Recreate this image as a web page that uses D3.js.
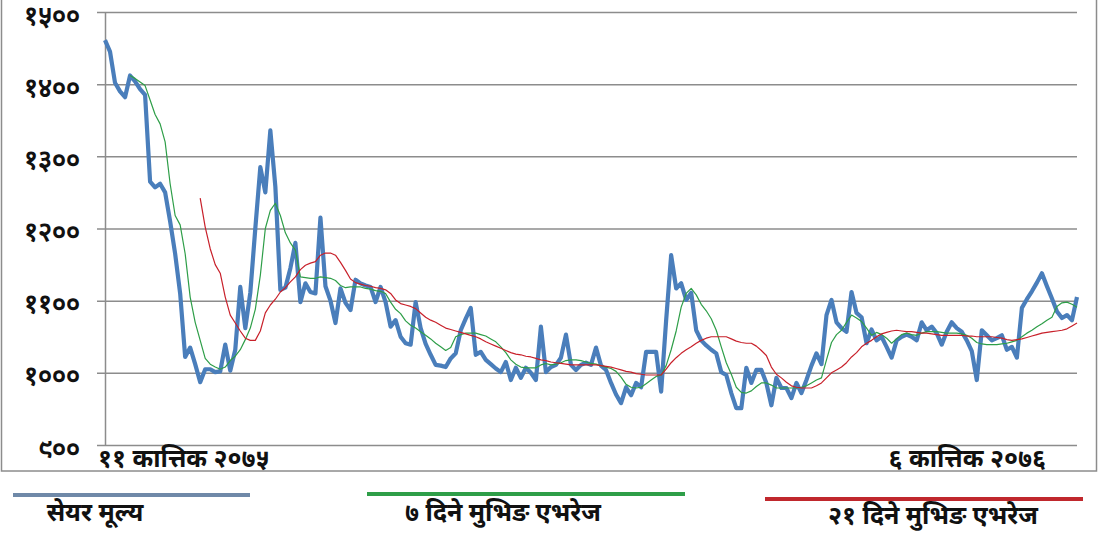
<!DOCTYPE html>
<html lang="ne">

<head>
    <meta charset="UTF-8">
    <title>सेयर मूल्य र मुभिङ एभरेज</title>
    <script src="https://d3js.org/d3.v7.min.js"></script>
    <style>
        body {
            margin: 0;
            background: white;
            font-family: "Noto Sans Devanagari", "Lohit Devanagari", "Noto Sans", sans-serif;
        }

        svg text {
            font-weight: bold;
            fill: #111;
        }
    </style>
</head>

<body>
    <svg id="vis" width="1100" height="535"></svg>
    <script>
        // share price, 11 Kartik 2075 -> 6 Kartik 2076
        const price = [
            1461, 1445, 1402, 1390, 1382, 1412, 1404, 1393, 1385, 1265,
            1257, 1262, 1250, 1210, 1165, 1110, 1022, 1035, 1012, 987,
            1005, 1005, 1001, 1002, 1039, 1003, 1032, 1119, 1062, 1111,
            1200, 1285, 1250, 1336, 1258, 1115, 1118, 1145, 1180, 1098,
            1124, 1112, 1110, 1215, 1120, 1100, 1069, 1117, 1097, 1087,
            1129, 1124, 1121, 1119, 1098, 1119, 1098, 1064, 1073, 1050,
            1041, 1039, 1098, 1062, 1040, 1025, 1011, 1010, 1008, 1020,
            1027, 1059, 1075, 1090, 1025, 1029, 1018, 1012, 1006, 1001,
            1015, 990, 1007, 993, 1007, 1000, 990, 1064, 1001, 1008,
            1011, 1021, 1053, 1011, 1004, 1011, 1014, 1011, 1035, 1010,
            1004, 986, 970, 958, 980, 969, 986, 980, 1029, 1029,
            1029, 974, 1073, 1163, 1117, 1124, 1101, 1111, 1059, 1045,
            1038, 1032, 1027, 1001, 997, 972, 951, 951, 1007, 986,
            1004, 1004, 986, 955, 993, 979, 979, 965, 986, 972,
            990, 1010, 1027, 1012, 1080, 1101, 1070, 1062, 1057, 1112,
            1083, 1077, 1041, 1060, 1045, 1050, 1036, 1021, 1045, 1050,
            1053, 1050, 1045, 1070, 1059, 1064, 1055, 1039, 1057, 1070,
            1062, 1057, 1045, 1030, 990, 1059, 1052, 1045, 1048, 1052,
            1032, 1036, 1021, 1090, 1102, 1113, 1125, 1138, 1120, 1103,
            1085, 1076, 1080, 1073, 1105
        ];

        // 7 day moving average (green)
        const ma7 = [
            null, null, null, null, null, 1412, 1408, 1403, 1398, 1378,
            1358, 1345, 1320, 1262, 1218, 1205, 1165, 1105, 1070, 1045,
            1020, 1012, 1008, 1005, 1008, 1017, 1023, 1032, 1046, 1062,
            1088, 1135, 1200, 1225, 1235, 1218, 1194, 1180, 1170, 1133,
            1132, 1131, 1131, 1133, 1132, 1131, 1128, 1121, 1118, 1119,
            1119, 1119, 1117, 1116, 1114, 1113, 1110, 1098, 1088, 1082,
            1072, 1066, 1062, 1057, 1052, 1047, 1041, 1036, 1031, 1035,
            1050, 1053, 1055, 1055, 1055, 1053, 1051, 1047, 1043, 1036,
            1028, 1018, 1012, 1008, 1007, 1007, 1007, 1011, 1013, 1011,
            1012, 1014, 1017, 1018, 1018, 1017, 1015, 1013, 1012, 1010,
            1008, 1006, 1002, 994, 984, 980, 979, 980, 985, 990,
            995, 997, 1010, 1032, 1058, 1091, 1110, 1117, 1108, 1095,
            1086, 1075, 1059, 1036, 1014, 998, 980, 973, 972, 975,
            981, 986, 986, 983, 979, 979, 979, 979, 979, 980,
            982, 986, 990, 993, 1018, 1042, 1053, 1059, 1070, 1080,
            1076, 1071, 1062, 1052, 1056, 1053, 1048, 1041, 1047, 1053,
            1055, 1053, 1052, 1055, 1057, 1057, 1057, 1056, 1055, 1055,
            1055, 1054, 1052, 1048, 1042, 1040, 1039, 1039, 1039, 1040,
            1041, 1043, 1045, 1050, 1055, 1059, 1064, 1068, 1073, 1077,
            1092, 1097, 1098, 1095, 1091
        ];

        // 21 day moving average (red)
        const ma21 = [
            null, null, null, null, null, null, null, null, null, null,
            null, null, null, null, null, null, null, null, null, 1242,
            1202, 1172, 1150, 1138, 1105, 1080, 1069, 1058, 1048, 1045,
            1045, 1058, 1083, 1094, 1102, 1112, 1118, 1126, 1133, 1143,
            1149, 1152, 1154, 1163, 1166, 1166, 1163, 1153, 1142, 1130,
            1125, 1123, 1121, 1120, 1118, 1117, 1115, 1110, 1101, 1096,
            1094, 1092, 1089, 1083, 1077, 1073, 1070, 1066, 1062, 1060,
            1058, 1056, 1054, 1052, 1050, 1047, 1043, 1040, 1037, 1034,
            1031, 1028, 1026, 1025, 1023, 1022, 1020, 1018, 1017, 1015,
            1014, 1013, 1012, 1011, 1011, 1011, 1011, 1011, 1011, 1010,
            1009, 1008, 1006, 1004, 1002, 1001, 999, 998, 997, 997,
            997, 997, 1005, 1014, 1021, 1027, 1032, 1036, 1041, 1045,
            1048, 1050, 1050, 1050, 1050, 1047, 1044, 1042, 1041, 1041,
            1037, 1031, 1024, 1008, 998, 993, 987, 982, 980, 979,
            979, 979, 982, 986, 993, 1000, 1004, 1008, 1014, 1022,
            1028, 1036, 1041, 1045, 1050, 1054, 1056, 1058, 1059, 1058,
            1057, 1057, 1056, 1055, 1055, 1054, 1053, 1052, 1052, 1052,
            1052, 1052, 1051, 1051, 1050, 1050, 1050, 1050, 1049, 1048,
            1046, 1045, 1046, 1047, 1049, 1051, 1053, 1055, 1056, 1057,
            1058, 1059, 1061, 1065, 1069
        ];

        const yTicks = [900, 1000, 1100, 1200, 1300, 1400, 1500];
        const yTickLabels = ["९००", "१०००", "११००", "१२००", "१३००", "१४००", "१५००"];
        const firstDate = "११ कात्तिक २०७५";
        const lastDate = "६ कात्तिक २०७६";
        const seriesNames = ["सेयर मूल्य", "७ दिने मुभिङ एभरेज", "२१ दिने मुभिङ एभरेज"];

        const svg = d3.select("#vis");
        const plot = { left: 105, right: 1077, top: 12, bottom: 445 };

        const x = d3.scalePoint()
            .domain(d3.range(price.length))
            .range([plot.left, plot.right]);
        const y = d3.scaleLinear()
            .domain([900, 1500])
            .range([plot.bottom, plot.top]);

        // chart frame
        svg.append("rect")
            .attr("x", 1.5).attr("y", -5)
            .attr("width", 1095).attr("height", 476)
            .attr("fill", "none")
            .attr("stroke", "#8c8c8c")
            .attr("stroke-width", 1.5);

        // gridlines + y labels
        const yAxis = svg.append("g")
            .attr("transform", `translate(${plot.left},0)`)
            .call(d3.axisLeft(y)
                .tickValues(yTicks)
                .tickSize(-(plot.right - plot.left))
                .tickSizeOuter(0)
                .tickPadding(25)
                .tickFormat((d, i) => yTickLabels[i]));
        yAxis.select(".domain").attr("stroke", "#8c8c8c").attr("stroke-width", 1.5);
        yAxis.selectAll(".tick line")
            .attr("x1", -8)
            .attr("stroke", "#8c8c8c")
            .attr("stroke-width", 1.5);
        yAxis.selectAll(".tick text")
            .attr("dy", "0.45em")
            .style("font-size", "27px")
            .style("font-weight", "bold")
            .attr("fill", "#111");

        // date labels under the axis
        svg.append("text")
            .attr("x", x(0) - 7).attr("y", 467)
            .style("font-size", "25px")
            .text(firstDate);
        svg.append("text")
            .attr("x", 1046).attr("y", 467)
            .attr("text-anchor", "end")
            .style("font-size", "25px")
            .text(lastDate);

        const line = d3.line()
            .defined(d => d != null)
            .x((d, i) => x(i))
            .y(d => y(d));

        const layers = [
            { data: price, color: "#4a7ebb", width: 4.2 },
            { data: ma7, color: "#2e9e48", width: 1.2 },
            { data: ma21, color: "#c8202a", width: 1.2 },
        ];
        layers.forEach(l => {
            svg.append("path")
                .datum(l.data)
                .attr("fill", "none")
                .attr("stroke", l.color)
                .attr("stroke-width", l.width)
                .attr("stroke-linejoin", "round")
                .attr("d", line);
        });

        // legend
        const legend = [
            { name: seriesNames[0], color: "#6f89a8", x1: 13, x2: 250, ly: 495, tx: 95, ty: 521 },
            { name: seriesNames[1], color: "#2e9e48", x1: 367, x2: 685, ly: 494, tx: 503, ty: 521 },
            { name: seriesNames[2], color: "#c0282d", x1: 765, x2: 1083, ly: 499, tx: 933, ty: 524 },
        ];
        const lg = svg.append("g");
        legend.forEach(d => {
            lg.append("line")
                .attr("x1", d.x1).attr("x2", d.x2)
                .attr("y1", d.ly).attr("y2", d.ly)
                .attr("stroke", d.color)
                .attr("stroke-width", 4);
            lg.append("text")
                .attr("x", d.tx).attr("y", d.ty)
                .attr("text-anchor", "middle")
                .style("font-size", "25px")
                .text(d.name);
        });
    </script>
</body>

</html>
